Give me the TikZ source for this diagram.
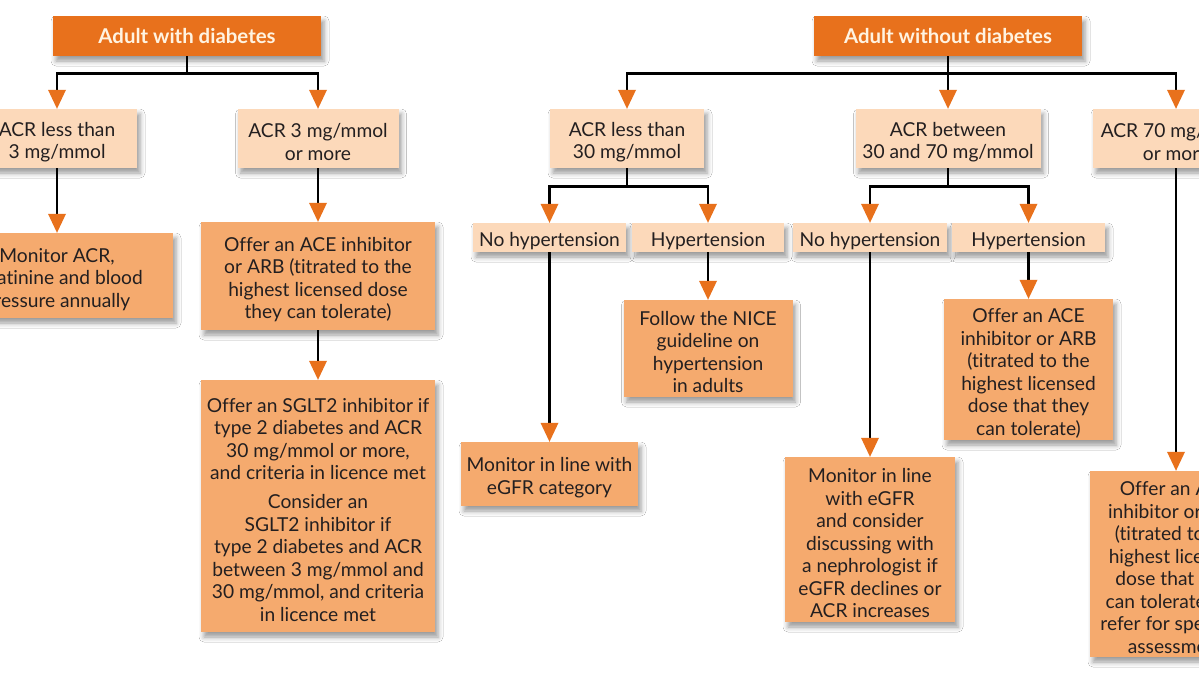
\documentclass[tikz,border=0pt]{standalone}
\usepackage{fontspec}
\setmainfont[Ligatures=NoCommon]{Lato}
\usetikzlibrary{arrows.meta,shadows.blur}
\definecolor{hdr}{RGB}{232,113,28}
\definecolor{peach}{RGB}{252,217,186}
\definecolor{act}{RGB}{245,170,110}
\definecolor{txt}{RGB}{35,31,32}
\definecolor{hdrtxt}{RGB}{255,243,225}
\newcommand{\firstup}{\rule{0pt}{21.5pt}}
\begin{document}
\begin{tikzpicture}[x=1pt,y=-1pt,
 box/.style={inner sep=0pt, align=center, font=\fontsize{19.2}{22.5}\selectfont, text=txt,
   blur shadow={shadow xshift=3pt,shadow yshift=-5pt,shadow blur radius=5pt,shadow opacity=40}},
 hbox/.style={box, fill=hdr, text=hdrtxt, font=\fontsize{20.4}{22}\selectfont\bfseries},
 qbox/.style={box, fill=peach},
 abox/.style={box, fill=act},
 conn/.style={line width=2.8pt, draw=black, -{Triangle[width=18pt,length=19pt,line width=0pt,color=hdr]}}
]
\useasboundingbox (0,0) rectangle (1199,675);
\clip (0,0) rectangle (1199,675);
\fill[white] (0,0) rectangle (1199,675);

% left tree
\node[hbox, minimum width=268pt, minimum height=40pt] (h1) at (187,36) {Adult with diabetes};
\node[qbox, minimum width=160pt, minimum height=59pt] (a1) at (57,138.5) {\firstup ACR less than\\3 mg/mmol};
\node[qbox, minimum width=161pt, minimum height=59pt] (a2) at (318,138.5) {\firstup ACR 3 mg/mmol\\or more};
\node[abox, minimum width=232pt, minimum height=85pt] (m1) at (57,275.5) {\firstup Monitor ACR,\\creatinine and blood\\pressure annually};
\node[abox, minimum width=234pt, minimum height=108pt] (e1) at (318,276) {\firstup Offer an ACE inhibitor\\or ARB (titrated to the\\highest licensed dose\\they can tolerate)};
\node[abox, minimum width=234pt, minimum height=252pt] (s1) at (318,506) {\firstup Offer an SGLT2 inhibitor if\\type 2 diabetes and ACR\\30 mg/mmol or more,\\and criteria in licence met\\[6.5pt]Consider an\\SGLT2 inhibitor if\\type 2 diabetes and ACR\\between 3 mg/mmol and\\30 mg/mmol, and criteria\\in licence met};

% right tree
\node[hbox, minimum width=268pt, minimum height=40pt] (h2) at (948,36) {Adult without diabetes};
\node[qbox, minimum width=154pt, minimum height=59pt] (b1) at (627,138.5) {\firstup ACR less than\\30 mg/mmol};
\node[qbox, minimum width=185pt, minimum height=59pt] (b2) at (948,138.5) {\firstup ACR between\\30 and 70 mg/mmol};
\node[qbox, minimum width=166pt, minimum height=59pt] (b3) at (1176,138.5) {\firstup ACR 70 mg/mmol\\or more};
\node[qbox, minimum width=153pt, minimum height=29pt] (n1) at (549.5,237.5) {\firstup No hypertension};
\node[qbox, minimum width=152pt, minimum height=29pt] (p1) at (708,237.5) {\firstup Hypertension};
\node[qbox, minimum width=154pt, minimum height=29pt] (n2) at (870,237.5) {\firstup No hypertension};
\node[qbox, minimum width=153pt, minimum height=29pt] (p2) at (1028.5,237.5) {\firstup Hypertension};
\node[abox, minimum width=169pt, minimum height=97pt] (f1) at (708,348.5) {\firstup Follow the NICE\\guideline on\\hypertension\\in adults};
\node[abox, minimum width=177pt, minimum height=64pt] (g1) at (549.5,474) {\firstup Monitor in line with\\eGFR category};
\node[abox, minimum width=169pt, minimum height=141pt] (k1) at (1028.5,369.5) {\firstup Offer an ACE\\inhibitor or ARB\\(titrated to the\\highest licensed\\dose that they\\can tolerate)};
\node[abox, minimum width=170pt, minimum height=165pt] (q1) at (870,539.5) {\firstup Monitor in line\\with eGFR\\and consider\\discussing with\\a nephrologist if\\eGFR declines or\\ACR increases};
\node[abox, minimum width=172pt, minimum height=186pt] (r1) at (1176,564) {\firstup Offer an ACE\\inhibitor or ARB\\(titrated to the\\highest licensed\\dose that they\\can tolerate) and\\refer for specialist\\assessment};

% connectors left
\draw[conn] (h1.south) -- ++(0,17) -| (a1.north);
\draw[conn] (h1.south) -- ++(0,17) -| (a2.north);
\draw[conn] (a1.south) -- (m1.north);
\draw[conn] (a2.south) -- (e1.north);
\draw[conn] (e1.south) -- (s1.north);

% connectors right
\draw[conn] (h2.south) -- ++(0,17) -| (b1.north);
\draw[conn] (h2.south) -- (b2.north);
\draw[conn] (h2.south) -- ++(0,17) -| (b3.north);
\draw[conn] (b1.south) -- ++(0,18) -| (n1.north);
\draw[conn] (b1.south) -- ++(0,18) -| (p1.north);
\draw[conn] (b2.south) -- ++(0,18) -| (n2.north);
\draw[conn] (b2.south) -- ++(0,18) -| (p2.north);
\draw[conn] (p1.south) -- (f1.north);
\draw[conn] (n1.south) -- (g1.north);
\draw[conn] (p2.south) -- (k1.north);
\draw[conn] (n2.south) -- (q1.north);
\draw[conn] (b3.south) -- (r1.north);
\end{tikzpicture}
\end{document}
